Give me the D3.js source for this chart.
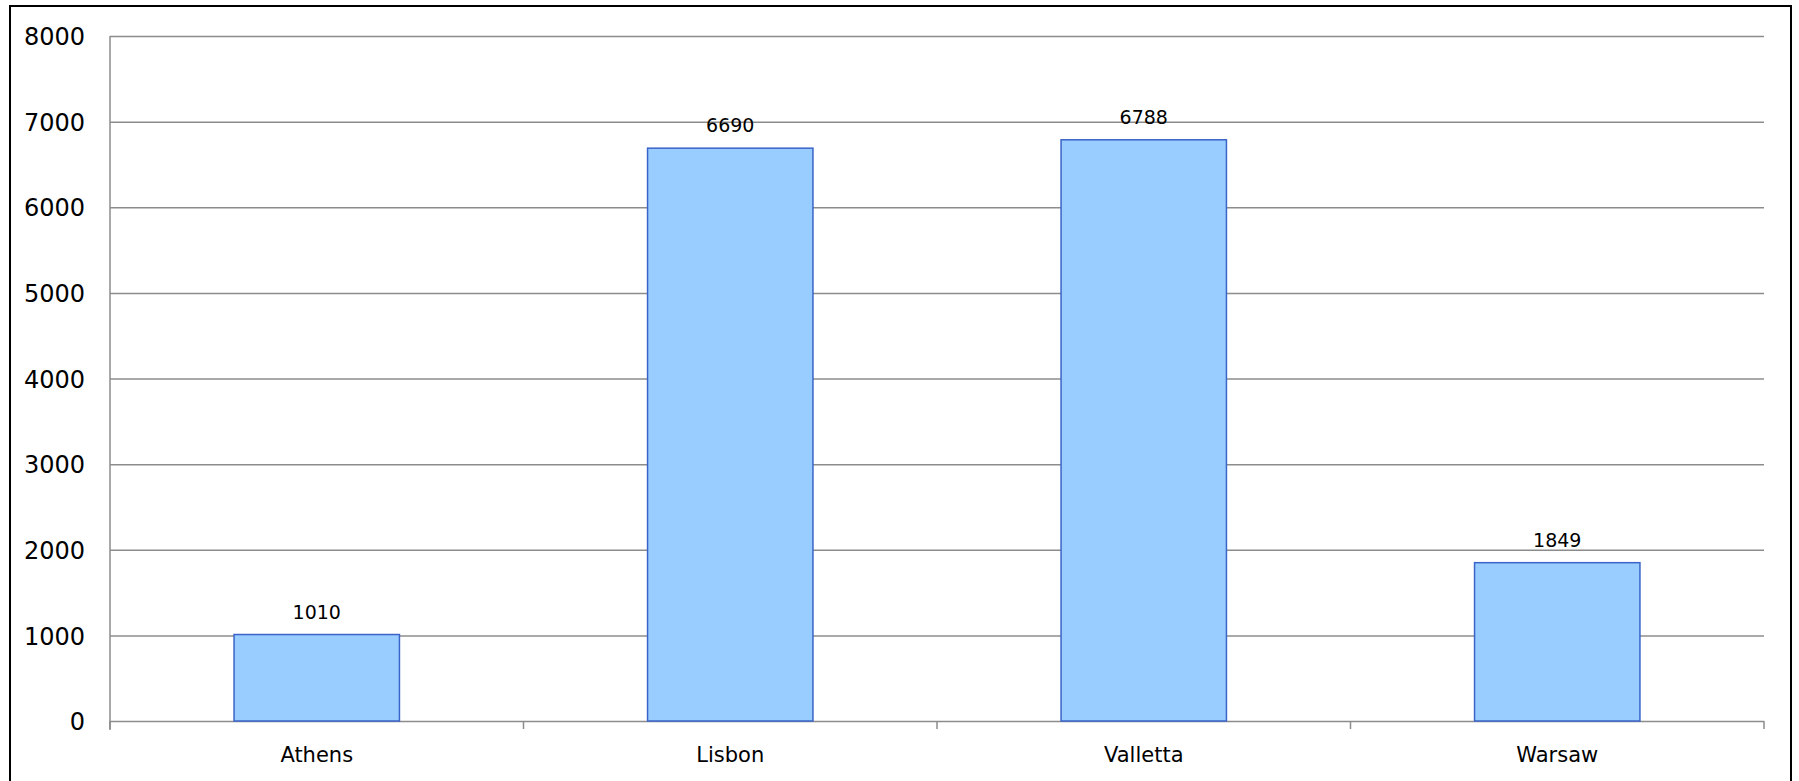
<!DOCTYPE html><meta charset="utf-8"><style>
    body { margin: 0; background: #fff; }
    text { font-family: "DejaVu Sans", Verdana, sans-serif; fill: #000; }
</style><svg width="1799" height="781"></svg><script src="https://cdn.jsdelivr.net/npm/d3@7/dist/d3.min.js"></script><script>

    var width = 1799, height = 781;

    var margin = ({top: 36, right: 35, bottom: 60, left: 110});

    var cities = ["Athens", "Lisbon", "Valletta", "Warsaw"];
    var values = [1010, 6690, 6788, 1849];
    var yTicks = [0, 1000, 2000, 3000, 4000, 5000, 6000, 7000, 8000];

    var data = cities.map((c, i) => ({name: c, value: values[i]}));

    var x0 = margin.left, x1 = width - margin.right;
    var y0 = height - margin.bottom, y1 = margin.top;

    // category slots, bars take 40% of each slot
    var slot = d3.scaleBand()
        .domain(cities)
        .range([x0, x1])
        .padding(0);

    var x = d3.scaleBand()
        .domain(cities)
        .range([x0, x1])
        .paddingInner(0.6)
        .paddingOuter(0.3);

    var y = d3.scaleLinear()
        .domain([0, 8000])
        .range([y0, y1]);

    const svg = d3.select("svg")
        .attr("viewBox", [0, 0, width, height]);

    // outer frame
    svg.append("rect")
        .attr("x", 10).attr("y", 6)
        .attr("width", 1781).attr("height", 800)
        .attr("fill", "none")
        .attr("stroke", "#000")
        .attr("stroke-width", 2);

    // y axis with gridlines
    svg.append("g")
        .attr("transform", `translate(${x0},0)`)
        .call(d3.axisLeft(y).tickValues(yTicks).tickSize(9).tickPadding(16).tickFormat(d3.format("d")))
        .call(g => g.select(".domain").attr("stroke", "#8c8c8c").attr("stroke-width", 1.5).attr("d", `M0,${y0 + 9}V${y1}`))
        .call(g => g.selectAll(".tick line").attr("stroke", "#8c8c8c").attr("stroke-width", 1.5).attr("x2", x1 - x0))
        .call(g => g.selectAll(".tick text").attr("font-size", 24).attr("font-family", "DejaVu Sans").attr("dy", "0.36em"));

    // x axis: ticks between categories
    var bounds = cities.map(c => slot(c)).concat([x1]);
    svg.append("g")
        .selectAll("line")
        .data(bounds)
        .join("line")
        .attr("x1", d => d).attr("x2", d => d)
        .attr("y1", y0).attr("y2", y0 + 8)
        .attr("stroke", "#8c8c8c")
        .attr("stroke-width", 1.5);

    svg.append("g")
        .selectAll("text")
        .data(cities)
        .join("text")
        .attr("x", d => slot(d) + slot.bandwidth() / 2)
        .attr("y", y0 + 41)
        .attr("text-anchor", "middle")
        .attr("font-size", 21)
        .text(d => d);

    // bars
    svg.append("g")
        .selectAll("rect")
        .data(data)
        .join("rect")
        .attr("x", d => x(d.name))
        .attr("y", d => y(d.value))
        .attr("width", x.bandwidth())
        .attr("height", d => y(0) - y(d.value))
        .attr("fill", "#99ccff")
        .attr("stroke", "#3a64c8")
        .attr("stroke-width", 1.5);

    // value labels
    svg.append("g")
        .selectAll("text")
        .data(data)
        .join("text")
        .attr("x", d => x(d.name) + x.bandwidth() / 2)
        .attr("y", d => y(d.value) - 16)
        .attr("text-anchor", "middle")
        .attr("font-size", 19)
        .text(d => d.value);

</script>
